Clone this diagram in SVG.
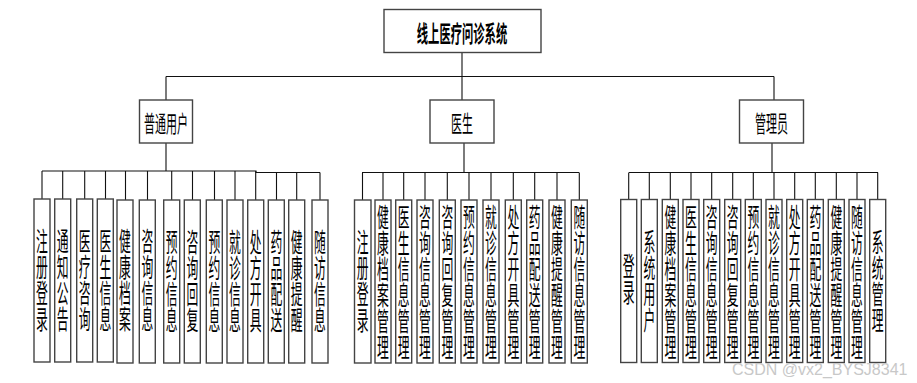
<svg xmlns="http://www.w3.org/2000/svg" width="917" height="383" viewBox="0 0 917 383">
<style>
.box{fill:#fff;stroke:#444;stroke-width:1.4}
.ln{fill:none;stroke:#111;stroke-width:1.1}
.t{font-family:"Noto Sans CJK SC","Noto Sans",sans-serif;fill:#000;text-anchor:middle;dominant-baseline:central}
.v{font-family:"Noto Sans CJK SC","Noto Sans",sans-serif;fill:#000;font-size:11.8px;writing-mode:vertical-rl;text-orientation:upright;text-anchor:middle}
.wm{font-family:"Liberation Sans",Arial,sans-serif;font-size:16px;fill:#c8c8c8}
</style>
<rect width="917" height="383" fill="#fff"/>
<g id="connectors">
<path class="ln" d="M462,52V100M166,76.5H774M166,76.5V100M774,76.5V100"/>
<path class="ln" d="M166,143V171M464,143V172.5M772,143V172.5"/>
<path class="ln" d="M42,171H256V172.5H320"/>
<path class="ln" d="M42,171V199M62.7,171V199M84.7,171V199M105.5,171V199M125.5,171V200M147.5,171V200M171.7,171V200M192.5,171V200M214.5,171V200M235,171V200M255.7,171V200M276.5,172.5V200M296.7,172.5V200M320,172.5V200"/>
<path class="ln" d="M362,172.5H579"/>
<path class="ln" d="M362.5,172.5V200M383,172.5V200M403.7,172.5V200M425,172.5V200M447.3,172.5V200M469,172.5V200M491,172.5V200M513.3,172.5V200M534.7,172.5V200M557,172.5V200M579.3,172.5V200"/>
<path class="ln" d="M629,172.5H878"/>
<path class="ln" d="M628.7,172.5V199M649.3,172.5V199M670.3,172.5V199M691,172.5V199M711.7,172.5V199M732.7,172.5V199M753.3,172.5V199M774,172.5V199M794.7,172.5V199M815.3,172.5V199M836.3,172.5V199M857,172.5V199M877.7,172.5V199"/>
</g>
<g id="root">
<rect class="box" x="384" y="9.5" width="157" height="43"/>
<text class="t" font-size="11.3" font-weight="bold" transform="translate(462,32) scale(1,2.05)">线上医疗问诊系统</text>
</g>
<g id="user">
<rect class="box" x="139.5" y="100" width="53" height="43"/>
<text class="t" font-size="11" transform="translate(166,122) scale(1,2.1)">普通用户</text>
</g>
<g id="doctor">
<rect class="box" x="430" y="100" width="64" height="43"/>
<text class="t" font-size="11" transform="translate(462,122) scale(1,2.1)">医生</text>
</g>
<g id="admin">
<rect class="box" x="739.5" y="100" width="64" height="43"/>
<text class="t" font-size="11" transform="translate(771.5,122) scale(1,2.1)">管理员</text>
</g>
<g id="u1"><rect class="box" x="34" y="199" width="16" height="163"/><text class="v" transform="translate(42,280.5) scale(1,2.2)">注册登录</text></g>
<g id="u2"><rect class="box" x="54.7" y="199" width="16" height="163"/><text class="v" transform="translate(62.7,280.5) scale(1,2.2)">通知公告</text></g>
<g id="u3"><rect class="box" x="76.7" y="199" width="16" height="163"/><text class="v" transform="translate(84.7,280.5) scale(1,2.2)">医疗咨询</text></g>
<g id="u4"><rect class="box" x="97.3" y="199" width="16" height="163"/><text class="v" transform="translate(105.3,280.5) scale(1,2.2)">医生信息</text></g>
<g id="u5"><rect class="box" x="117" y="200" width="16" height="163"/><text class="v" transform="translate(125,280) scale(1,2.2)">健康档案</text></g>
<g id="u6"><rect class="box" x="139.3" y="200" width="16" height="163"/><text class="v" transform="translate(147.3,280) scale(1,2.2)">咨询信息</text></g>
<g id="u7"><rect class="box" x="163.7" y="200" width="16" height="163"/><text class="v" transform="translate(171.7,281) scale(1,2.2)">预约信息</text></g>
<g id="u8"><rect class="box" x="184.3" y="200" width="16" height="163"/><text class="v" transform="translate(192.3,281) scale(1,2.2)">咨询回复</text></g>
<g id="u9"><rect class="box" x="206.3" y="200" width="16" height="163"/><text class="v" transform="translate(214.3,281) scale(1,2.2)">预约信息</text></g>
<g id="u10"><rect class="box" x="227" y="200" width="16" height="163"/><text class="v" transform="translate(235,281) scale(1,2.2)">就诊信息</text></g>
<g id="u11"><rect class="box" x="247.7" y="200" width="16" height="163"/><text class="v" transform="translate(255.7,281) scale(1,2.2)">处方开具</text></g>
<g id="u12"><rect class="box" x="268.3" y="200" width="16" height="163"/><text class="v" transform="translate(276.3,281) scale(1,2.2)">药品配送</text></g>
<g id="u13"><rect class="box" x="288.7" y="200" width="16" height="163"/><text class="v" transform="translate(296.7,281) scale(1,2.2)">健康提醒</text></g>
<g id="u14"><rect class="box" x="312" y="200" width="16" height="163"/><text class="v" transform="translate(320,281) scale(1,2.2)">随访信息</text></g>
<g id="d1"><rect class="box" x="354.5" y="200" width="16.5" height="163"/><text class="v" transform="translate(362.7,281) scale(1,2.2)">注册登录</text></g>
<g id="d2"><rect class="box" x="375" y="200" width="16" height="163"/><text class="v" transform="translate(383,282.5) scale(1,2.2)">健康档案管理</text></g>
<g id="d3"><rect class="box" x="395.7" y="200" width="16" height="163"/><text class="v" transform="translate(403.7,282.5) scale(1,2.2)">医生信息管理</text></g>
<g id="d4"><rect class="box" x="417" y="200" width="16" height="163"/><text class="v" transform="translate(425,282.5) scale(1,2.2)">咨询信息管理</text></g>
<g id="d5"><rect class="box" x="439.3" y="200" width="16" height="163"/><text class="v" transform="translate(447.3,282.5) scale(1,2.2)">咨询回复管理</text></g>
<g id="d6"><rect class="box" x="461" y="200" width="16" height="163"/><text class="v" transform="translate(469,282.5) scale(1,2.2)">预约信息管理</text></g>
<g id="d7"><rect class="box" x="483" y="200" width="16" height="163"/><text class="v" transform="translate(491,282.5) scale(1,2.2)">就诊信息管理</text></g>
<g id="d8"><rect class="box" x="505.3" y="200" width="16" height="163"/><text class="v" transform="translate(513.3,282.5) scale(1,2.2)">处方开具管理</text></g>
<g id="d9"><rect class="box" x="526.7" y="200" width="16" height="163"/><text class="v" transform="translate(534.7,282.5) scale(1,2.2)">药品配送管理</text></g>
<g id="d10"><rect class="box" x="549" y="200" width="16" height="163"/><text class="v" transform="translate(557,282.5) scale(1,2.2)">健康提醒管理</text></g>
<g id="d11"><rect class="box" x="571.3" y="200" width="16" height="163"/><text class="v" transform="translate(579.3,282.5) scale(1,2.2)">随访信息管理</text></g>
<g id="a1"><rect class="box" x="620.7" y="199.5" width="16" height="163"/><text class="v" transform="translate(628.7,279) scale(1,2.2)">登录</text></g>
<g id="a2"><rect class="box" x="641.3" y="199.5" width="16" height="163"/><text class="v" transform="translate(649.3,281) scale(1,2.2)">系统用户</text></g>
<g id="a3"><rect class="box" x="662.3" y="199.5" width="16" height="163"/><text class="v" transform="translate(670.3,282) scale(1,2.2)">健康档案管理</text></g>
<g id="a4"><rect class="box" x="683" y="199.5" width="16" height="163"/><text class="v" transform="translate(691,282) scale(1,2.2)">医生信息管理</text></g>
<g id="a5"><rect class="box" x="703.7" y="199.5" width="16" height="163"/><text class="v" transform="translate(711.7,282) scale(1,2.2)">咨询信息管理</text></g>
<g id="a6"><rect class="box" x="724.7" y="199.5" width="16" height="163"/><text class="v" transform="translate(732.7,282) scale(1,2.2)">咨询回复管理</text></g>
<g id="a7"><rect class="box" x="745.3" y="199.5" width="16" height="163"/><text class="v" transform="translate(753.3,282) scale(1,2.2)">预约信息管理</text></g>
<g id="a8"><rect class="box" x="766" y="199.5" width="16" height="163"/><text class="v" transform="translate(774,282) scale(1,2.2)">就诊信息管理</text></g>
<g id="a9"><rect class="box" x="786.7" y="199.5" width="16" height="163"/><text class="v" transform="translate(794.7,282) scale(1,2.2)">处方开具管理</text></g>
<g id="a10"><rect class="box" x="807.3" y="199.5" width="16" height="163"/><text class="v" transform="translate(815.3,282) scale(1,2.2)">药品配送管理</text></g>
<g id="a11"><rect class="box" x="828.3" y="199.5" width="16" height="163"/><text class="v" transform="translate(836.3,282) scale(1,2.2)">健康提醒管理</text></g>
<g id="a12"><rect class="box" x="849" y="199.5" width="16" height="163"/><text class="v" transform="translate(857,282) scale(1,2.2)">随访信息管理</text></g>
<g id="a13"><rect class="box" x="869.7" y="199.5" width="16" height="163"/><text class="v" transform="translate(877.7,281) scale(1,2.2)">系统管理</text></g>
<text class="wm" x="732" y="375">CSDN @vx2_BYSJ8341</text>
</svg>
